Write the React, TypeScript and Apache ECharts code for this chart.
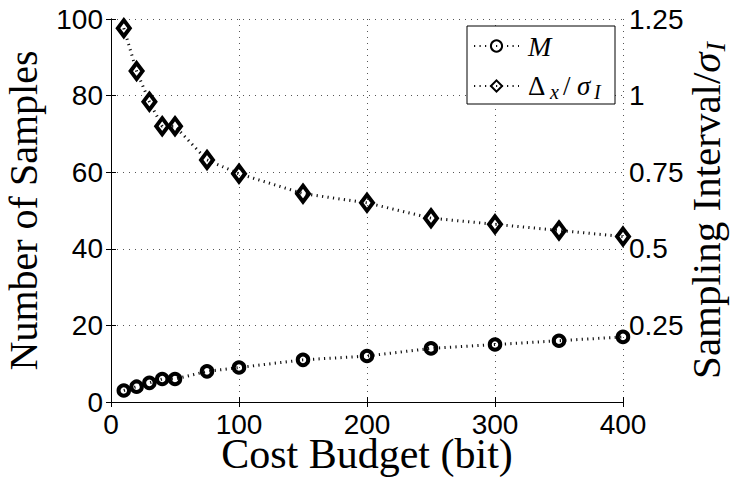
import React, { useEffect, useRef } from "react";
import * as echarts from "echarts";

// Cost budget (bit) at which each configuration was evaluated
const budgets = [10, 20, 30, 40, 50, 75, 100, 150, 200, 250, 300, 350, 400];
// Number of samples M (left axis)
const sampleCounts = [3, 4, 5, 6, 6, 8, 9, 11, 12, 14, 15, 16, 17];
// Sampling interval normalised by sigma_I (right axis)
const intervalRatios = [1.22, 1.08, 0.98, 0.9, 0.9, 0.79, 0.745, 0.68, 0.65, 0.6, 0.58, 0.56, 0.54];

const budgetTicks = [0, 100, 200, 300, 400];
const countTicks = [0, 20, 40, 60, 80, 100];
const ratioTicks = [0, 0.25, 0.5, 0.75, 1, 1.25];

const seriesNames = ["M", "Δx/σI"];
const legendLabels = ["{mi|M}", "{d|Δ}{xs|x}{sl|/}{sg|σ}{is|I}"];

const SERIF = "'Liberation Serif', 'Times New Roman', serif";
const SANS = "'Liberation Sans', Arial, Helvetica, sans-serif";

const first = (t: number[]) => t[0];
const last = (t: number[]) => t[t.length - 1];
const step = (t: number[]) => t[1] - t[0];

export default function App() {
  const ref = useRef<HTMLDivElement>(null);

  useEffect(() => {
    const el = ref.current;
    if (!el) return;
    const chart = echarts.init(el, undefined, { renderer: "svg" });

    const tickLabel = { fontFamily: SANS, fontSize: 28, color: "#000" };
    const dotted = { color: "#555", width: 1, type: [1, 5] };
    const axisLine = { show: true, lineStyle: { color: "#000", width: 1 } };
    const inTick = { show: true, inside: true, length: 5, lineStyle: { color: "#000", width: 1 } };
    const lineDots = { color: "#111", width: 3, type: [1.2, 4.3] };

    chart.setOption({
      animation: false,
      backgroundColor: "#fff",
      grid: {
        left: 111,
        right: 108,
        top: 19,
        bottom: 79,
        containLabel: false,
        outerBoundsMode: "none",
      },
      xAxis: [
        {
          type: "value",
          position: "bottom",
          min: first(budgetTicks),
          max: last(budgetTicks),
          interval: step(budgetTicks),
          axisLine,
          axisTick: inTick,
          axisLabel: { ...tickLabel, margin: 8 },
          splitLine: { show: true, lineStyle: dotted },
          name: "Cost Budget (bit)",
          nameLocation: "middle",
          nameGap: 37,
          nameMoveOverlap: false,
          nameTextStyle: { fontFamily: SERIF, fontSize: 42, lineHeight: 30, color: "#000" },
        },
        {
          type: "value",
          position: "top",
          min: first(budgetTicks),
          max: last(budgetTicks),
          interval: step(budgetTicks),
          axisLine,
          axisTick: inTick,
          axisLabel: { show: false },
          splitLine: { show: false },
        },
      ],
      yAxis: [
        {
          type: "value",
          position: "left",
          min: first(countTicks),
          max: last(countTicks),
          interval: step(countTicks),
          axisLine,
          axisTick: inTick,
          axisLabel: { ...tickLabel, margin: 8 },
          splitLine: { show: true, lineStyle: dotted },
          name: "Number of Samples",
          nameLocation: "middle",
          nameRotate: 90,
          nameGap: 68,
          nameMoveOverlap: false,
          nameTextStyle: { fontFamily: SERIF, fontSize: 40, color: "#000" },
        },
        {
          type: "value",
          position: "right",
          min: first(ratioTicks),
          max: last(ratioTicks),
          interval: step(ratioTicks),
          axisLine,
          axisTick: inTick,
          axisLabel: {
            ...tickLabel,
            margin: 6,
            formatter: (v: number) => (v === 0 ? "" : String(v)),
          },
          splitLine: { show: false },
          name: "{t|Sampling Interval/}{g|σ}{s|I}",
          nameLocation: "middle",
          nameRotate: 90,
          nameGap: 62,
          nameMoveOverlap: false,
          nameTextStyle: {
            fontFamily: SERIF,
            fontSize: 41,
            color: "#000",
            rich: {
              t: { fontFamily: SERIF, fontSize: 41, lineHeight: 41, color: "#000" },
              g: { fontFamily: SERIF, fontStyle: "italic", fontSize: 41, lineHeight: 41, color: "#000" },
              s: {
                fontFamily: SERIF,
                fontStyle: "italic",
                fontSize: 28,
                lineHeight: 2,
                padding: [20, 0, 0, 1],
                color: "#000",
              },
            },
          },
        },
      ],
      legend: {
        orient: "vertical",
        left: 467,
        top: 26,
        padding: [6, 10, 2, 6],
        itemGap: 10,
        itemWidth: 45,
        itemHeight: 14,
        borderColor: "#000",
        borderWidth: 1,
        backgroundColor: "#fff",
        selectedMode: false,
        data: seriesNames,
        formatter: (name: string) => legendLabels[seriesNames.indexOf(name)],
        textStyle: {
          fontFamily: SERIF,
          fontSize: 27,
          color: "#000",
          rich: {
            mi: { fontFamily: SERIF, fontStyle: "italic", fontSize: 28, lineHeight: 24, padding: [0, 0, 0, 4], color: "#000" },
            d: { fontFamily: SERIF, fontSize: 27, lineHeight: 24, width: 22, padding: [0, 0, 0, 4], color: "#000" },
            xs: { fontFamily: SERIF, fontStyle: "italic", fontSize: 20, lineHeight: 2, width: 13, padding: [12, 0, 0, 0], color: "#000" },
            sl: { fontFamily: SERIF, fontSize: 27, lineHeight: 24, width: 14, color: "#000" },
            sg: { fontFamily: SERIF, fontStyle: "italic", fontSize: 27, lineHeight: 24, width: 17, color: "#000" },
            is: { fontFamily: SERIF, fontStyle: "italic", fontSize: 20, lineHeight: 2, width: 11, padding: [12, 0, 0, 0], color: "#000" },
          },
        },
      },
      series: [
        {
          name: seriesNames[0],
          type: "line",
          xAxisIndex: 0,
          yAxisIndex: 0,
          data: budgets.map((b, i) => [b, sampleCounts[i]]),
          symbol: "circle",
          symbolSize: 10.5,
          clip: false,
          silent: true,
          itemStyle: { color: "rgba(0,0,0,0)", borderColor: "#000", borderWidth: 4 },
          lineStyle: lineDots,
          emphasis: { disabled: true },
        },
        {
          name: seriesNames[1],
          type: "line",
          xAxisIndex: 0,
          yAxisIndex: 1,
          data: budgets.map((b, i) => [b, intervalRatios[i]]),
          symbol: "diamond",
          symbolSize: [12, 16],
          clip: false,
          silent: true,
          itemStyle: { color: "rgba(0,0,0,0)", borderColor: "#000", borderWidth: 4 },
          lineStyle: lineDots,
          emphasis: { disabled: true },
        },
      ],
    });

    return () => chart.dispose();
  }, []);

  return (
    <div
      ref={ref}
      style={{ position: "absolute", left: 0, top: 0, width: 731, height: 481, background: "#fff" }}
    />
  );
}
